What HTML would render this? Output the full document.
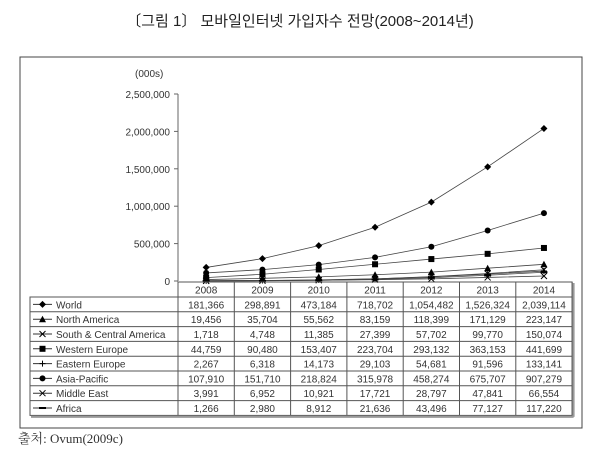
<!DOCTYPE html>
<html><head><meta charset="utf-8">
<style>
body{margin:0;background:#fff;width:600px;height:450px;overflow:hidden;font-family:"Liberation Sans","Noto Sans CJK KR",sans-serif;}
</style></head>
<body>
<svg id="c" width="600" height="450" xmlns="http://www.w3.org/2000/svg">
<text x="300" y="26" text-anchor="middle" font-size="15" fill="#222" font-family="'Liberation Sans','Noto Sans CJK KR',sans-serif">〔그림 1〕 모바일인터넷 가입자수 전망(2008~2014년)</text>
<rect x="20" y="57" width="562" height="371" fill="none" stroke="#444" stroke-width="1"/>
<text x="135" y="77" font-size="10" fill="#333">(000s)</text>
<text x="18" y="443" font-size="13" fill="#333" font-family="'Liberation Serif','Noto Serif CJK SC',serif">출처: Ovum(2009c)</text>
<g id="g"></g>
</svg>
<script>
const years=["2008","2009","2010","2011","2012","2013","2014"];
const seriesNames=["World","North America","South & Central America","Western Europe","Eastern Europe","Asia-Pacific","Middle East","Africa"];
const world=[181366,298891,473184,718702,1054482,1526324,2039114];
const northAmerica=[19456,35704,55562,83159,118399,171129,223147];
const southCentralAmerica=[1718,4748,11385,27399,57702,99770,150074];
const westernEurope=[44759,90480,153407,223704,293132,363153,441699];
const easternEurope=[2267,6318,14173,29103,54681,91596,133141];
const asiaPacific=[107910,151710,218824,315978,458274,675707,907279];
const middleEast=[3991,6952,10921,17721,28797,47841,66554];
const africa=[1266,2980,8912,21636,43496,77127,117220];
const yTicks=[0,500000,1000000,1500000,2000000,2500000];
const seriesData=[world,northAmerica,southCentralAmerica,westernEurope,easternEurope,asiaPacific,middleEast,africa];
const markers=["diamond","triangle","x","square","plus","circle","x","dash"];

const NS="http://www.w3.org/2000/svg";
const g=document.getElementById('g');
const x0=178,colW=56.3,y0=281,yTop=94,yMax=2500000;
const xs=i=>x0+colW*(i+0.5);
const ys=v=>y0-(v/yMax)*(y0-yTop);
function el(t,a){const e=document.createElementNS(NS,t);for(const k in a)e.setAttribute(k,a[k]);g.appendChild(e);return e;}
function fmt(v){return v.toLocaleString('en-US');}

let ax=el('line',{x1:x0,y1:yTop,x2:x0,y2:y0,stroke:'#666'});


yTicks.forEach(t=>{
  const tk=el('line',{x1:x0-4,x2:x0,y1:ys(t),y2:ys(t),stroke:'#666'});
  
  
  const tx=el('text',{x:x0-8,y:ys(t)+4,'text-anchor':'end','font-size':10,fill:'#333'});
  tx.textContent=fmt(t);
  
  
});

function marker(type,x,y){
  let m;
  if(type==='diamond')m=el('path',{d:`M${x} ${y-3.5}L${x+3.5} ${y}L${x} ${y+3.5}L${x-3.5} ${y}Z`,fill:'#000'});
  else if(type==='triangle')m=el('path',{d:`M${x} ${y-3.5}L${x+3.5} ${y+3}L${x-3.5} ${y+3}Z`,fill:'#000'});
  else if(type==='square')m=el('rect',{x:x-3,y:y-3,width:6,height:6,fill:'#000'});
  else if(type==='circle')m=el('circle',{cx:x,cy:y,r:3,fill:'#000'});
  else if(type==='x')m=el('path',{d:`M${x-3} ${y-3}L${x+3} ${y+3}M${x+3} ${y-3}L${x-3} ${y+3}`,stroke:'#000','stroke-width':1});
  else if(type==='plus')m=el('path',{d:`M${x-3} ${y}L${x+3} ${y}M${x} ${y-3}L${x} ${y+3}`,stroke:'#000','stroke-width':1});
  else m=el('path',{d:`M${x-3.5} ${y}L${x+3.5} ${y}`,stroke:'#000','stroke-width':2});
  return m;
}

seriesData.forEach((d,si)=>{
  const ln=el('polyline',{points:d.map((v,i)=>xs(i)+','+ys(v)).join(' '),fill:'none',stroke:'#444','stroke-width':0.8});
  
  
  d.forEach((v,i)=>{
    const m=marker(markers[si],xs(i),ys(v));
    
    
  });
});

// table
const tL=30,tR=x0+colW*7,hTop=282,hBot=297,rowH=14.8;
const tBot=hBot+rowH*8;
let b=el('rect',{x:tL,y:hBot,width:tR-tL,height:tBot-hBot,fill:'none',stroke:'#555','stroke-width':1});


let hb=el('rect',{x:x0,y:hTop,width:tR-x0,height:hBot-hTop,fill:'none',stroke:'#555'});


el('line',{x1:tL+1,y1:tBot+1.5,x2:tR+1.5,y2:tBot+1.5,stroke:'#999','stroke-width':2});
el('line',{x1:tR+1.5,y1:hTop+1,x2:tR+1.5,y2:tBot+1.5,stroke:'#999','stroke-width':2});
for(let k=0;k<=7;k++)el('line',{x1:x0+colW*k,y1:hTop,x2:x0+colW*k,y2:tBot,stroke:'#555'});
for(let r=1;r<8;r++)el('line',{x1:tL,y1:hBot+rowH*r,x2:tR,y2:hBot+rowH*r,stroke:'#555'});
years.forEach((yr,i)=>{
  const t=el('text',{x:xs(i),y:hBot-3.5,'text-anchor':'middle','font-size':10,fill:'#333'});
  t.textContent=yr;
  
  
});
seriesData.forEach((d,si)=>{
  const cy=hBot+rowH*si+rowH/2;
  el('line',{x1:tL+3,x2:tL+22,y1:cy,y2:cy,stroke:'#333'});
  const m=marker(markers[si],tL+12.5,cy);
  
  
  const n=el('text',{x:tL+26,y:cy+4,'font-size':10,fill:'#333'});
  n.textContent=seriesNames[si];
  
  
  d.forEach((v,i)=>{
    const t=el('text',{x:xs(i),y:cy+4,'text-anchor':'middle','font-size':10,fill:'#333'});
    t.textContent=fmt(v);
    
    
  });
});
</script>
</body></html>
